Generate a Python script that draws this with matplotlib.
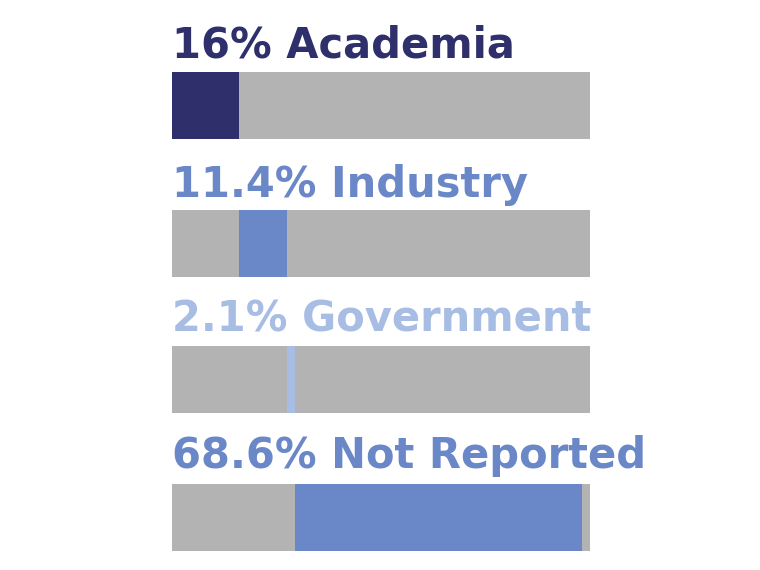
import matplotlib
matplotlib.use("Agg")
import matplotlib.pyplot as plt

labels = ["Academia", "Industry", "Government", "Not Reported"]
values = [16.0, 11.4, 2.1, 68.6]
label_text = ["16%", "11.4%", "2.1%", "68.6%"]
colors = ["#2e2f6b", "#6a87c8", "#a8bde3", "#6a87c8"]
GRAY = "#b3b3b3"

fig = plt.figure(figsize=(7.6, 5.7), dpi=100)
ax = fig.add_axes([172 / 760, 0, 418 / 760, 1])
ax.set_xlim(0, 100)
ax.set_ylim(570, 0)
ax.axis("off")

centers = [105, 243.5, 379, 517.5]
baselines = [58, 197, 332, 468]
left = 0.0
for lab, v, t, c, yc, yb in zip(labels, values, label_text, colors, centers, baselines):
    ax.barh(yc, 100, height=67, color=GRAY)
    ax.barh(yc, v, left=left, height=67, color=c)
    left += v
    ax.text(0, yb, f"{t} {lab}", color=c, fontsize=30, fontweight="bold",
            family=["Liberation Sans Narrow", "DejaVu Sans"], va="baseline", ha="left")

fig.savefig("out.png", dpi=100)
